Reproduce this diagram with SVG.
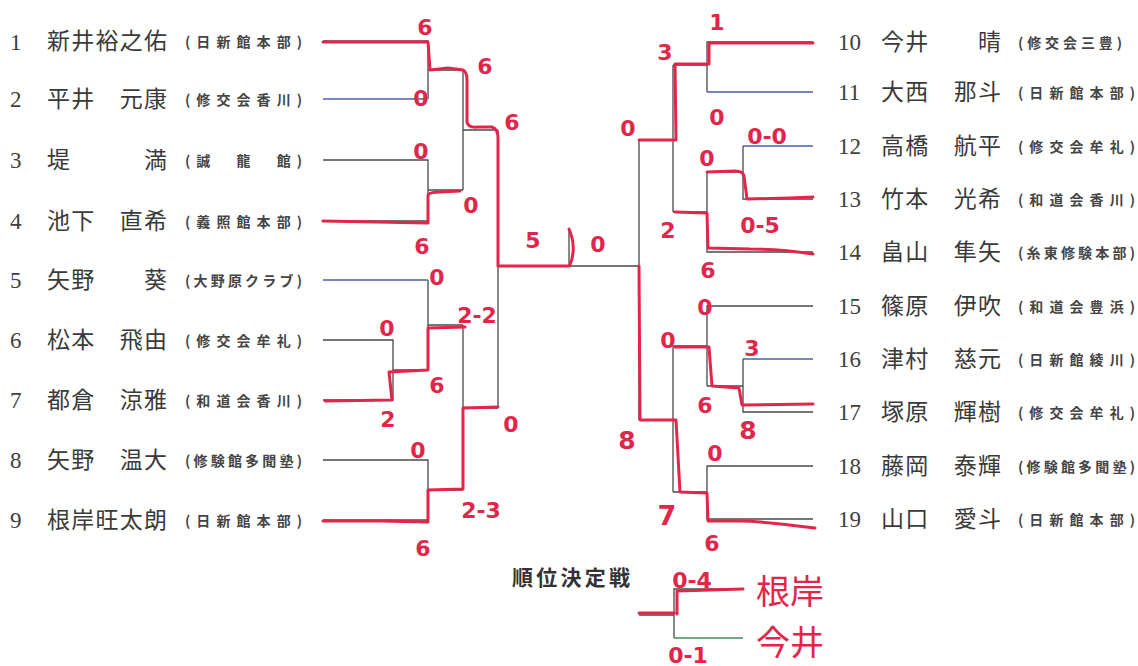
<svg xmlns="http://www.w3.org/2000/svg" width="1138" height="666" viewBox="0 0 1138 666">
<style>
.num{font-family:"Liberation Serif",serif;font-size:23px;fill:#404040}
.nm{font-family:"Noto Sans CJK JP",sans-serif;font-size:23px;fill:#3a3a3a}
.af{font-family:"Noto Sans CJK JP",sans-serif;font-size:14px;font-weight:bold;fill:#454545}
.ln{fill:none;stroke:#4a4a4a;stroke-width:1.3}
.bl{fill:none;stroke:#4862a8;stroke-width:1.3}
.gr{fill:none;stroke:#3f8a5f;stroke-width:1.3}
.rd{fill:none;stroke:#e2264b;stroke-width:3;stroke-linecap:round;stroke-linejoin:round}
.sc{font-family:"DejaVu Sans",sans-serif;font-weight:bold;font-size:22px;fill:#e2264b;text-anchor:middle}
.big{font-family:"Noto Sans CJK JP",sans-serif;font-size:34px;fill:#e2264b}
.ttl{font-family:"Noto Sans CJK JP",sans-serif;font-size:21px;font-weight:bold;fill:#333}
</style>
<rect width="1138" height="666" fill="#ffffff"/>

<g id="p1"><text class="num" x="10" y="50">1</text><text class="nm" x="47" y="49" textLength="120">新井裕之佑</text><text class="af" x="185" y="47" textLength="117">(日新館本部)</text></g>
<g id="p2"><text class="num" x="10" y="107">2</text><text class="nm" x="47" y="107" textLength="120">平井　元康</text><text class="af" x="185" y="105" textLength="117">(修交会香川)</text></g>
<g id="p3"><text class="num" x="10" y="168">3</text><text class="nm" x="47" y="168" textLength="120">堤　　　満</text><text class="af" x="185" y="166" textLength="117">(誠　龍　館)</text></g>
<g id="p4"><text class="num" x="10" y="229">4</text><text class="nm" x="47" y="229" textLength="120">池下　直希</text><text class="af" x="185" y="227" textLength="117">(義照館本部)</text></g>
<g id="p5"><text class="num" x="10" y="288">5</text><text class="nm" x="47" y="288" textLength="120">矢野　　葵</text><text class="af" x="185" y="286" textLength="117">(大野原クラブ)</text></g>
<g id="p6"><text class="num" x="10" y="348">6</text><text class="nm" x="47" y="348" textLength="120">松本　飛由</text><text class="af" x="185" y="346" textLength="117">(修交会牟礼)</text></g>
<g id="p7"><text class="num" x="10" y="408">7</text><text class="nm" x="47" y="408" textLength="120">都倉　涼雅</text><text class="af" x="185" y="406" textLength="117">(和道会香川)</text></g>
<g id="p8"><text class="num" x="10" y="468">8</text><text class="nm" x="47" y="468" textLength="120">矢野　温大</text><text class="af" x="185" y="466" textLength="117">(修験館多聞塾)</text></g>
<g id="p9"><text class="num" x="10" y="528">9</text><text class="nm" x="47" y="528" textLength="120">根岸旺太朗</text><text class="af" x="185" y="526" textLength="117">(日新館本部)</text></g>

<g id="p10"><text class="num" x="838" y="50">10</text><text class="nm" x="881" y="50" textLength="120">今井　　晴</text><text class="af" x="1018" y="48" textLength="104">(修交会三豊)</text></g>
<g id="p11"><text class="num" x="838" y="100">11</text><text class="nm" x="881" y="100" textLength="120">大西　那斗</text><text class="af" x="1018" y="98" textLength="117">(日新館本部)</text></g>
<g id="p12"><text class="num" x="838" y="154">12</text><text class="nm" x="881" y="154" textLength="120">高橋　航平</text><text class="af" x="1018" y="152" textLength="117">(修交会牟礼)</text></g>
<g id="p13"><text class="num" x="838" y="207">13</text><text class="nm" x="881" y="207" textLength="120">竹本　光希</text><text class="af" x="1018" y="205" textLength="117">(和道会香川)</text></g>
<g id="p14"><text class="num" x="838" y="260">14</text><text class="nm" x="881" y="260" textLength="120">畠山　隼矢</text><text class="af" x="1018" y="258" textLength="117">(糸東修験本部)</text></g>
<g id="p15"><text class="num" x="838" y="314">15</text><text class="nm" x="881" y="314" textLength="120">篠原　伊吹</text><text class="af" x="1018" y="312" textLength="117">(和道会豊浜)</text></g>
<g id="p16"><text class="num" x="838" y="367">16</text><text class="nm" x="881" y="367" textLength="120">津村　慈元</text><text class="af" x="1018" y="365" textLength="117">(日新館綾川)</text></g>
<g id="p17"><text class="num" x="838" y="420">17</text><text class="nm" x="881" y="420" textLength="120">塚原　輝樹</text><text class="af" x="1018" y="418" textLength="117">(修交会牟礼)</text></g>
<g id="p18"><text class="num" x="838" y="474">18</text><text class="nm" x="881" y="474" textLength="120">藤岡　泰輝</text><text class="af" x="1018" y="472" textLength="117">(修験館多聞塾)</text></g>
<g id="p19"><text class="num" x="838" y="527">19</text><text class="nm" x="881" y="527" textLength="120">山口　愛斗</text><text class="af" x="1018" y="525" textLength="117">(日新館本部)</text></g>

<g id="title"><text class="ttl" x="512" y="585" textLength="118">順位決定戦</text></g>

<g id="connectors">
<path class="ln" d="M323,41 H428 V99"/>
<path class="bl" d="M428,99 H323"/>
<path class="ln" d="M428,70 H463 M323,160 H428 V221 H323 M428,190 H463 M463,70 V190 M463,130 H498"/>
<path class="bl" d="M323,280 H428"/>
<path class="ln" d="M428,280 V370 M323,340 H393 V400 H323 M393,370 H428 M428,325 H463"/>
<path class="ln" d="M323,460 H428 V520 H323 M428,490 H463 M463,325 V490 M463,408 H498 M498,130 V408 M498,266 H639"/>
<path class="ln" d="M813,42 H707 V92"/>
<path class="bl" d="M707,92 H813 M813,146 H743"/>
<path class="ln" d="M743,146 V199 H813 M707,65 H673 M743,172 H707 M707,172 V252 H813 M707,212 H673 M673,65 V212 M673,140 H639"/>
<path class="ln" d="M813,306 H707 V386 M743,386 H707 M707,346 H673"/>
<path class="bl" d="M813,359 H743"/>
<path class="ln" d="M743,359 V412 H813 M813,466 H707 V519 H813 M707,492 H673 M673,346 V492 M673,420 H639 M639,140 V420"/>
<path class="ln" d="M639,615 H674 M743,589 H674 V638"/>
<path class="gr" d="M674,638 H743"/>
<path class="ln" d="M569,228 V266"/>
</g>

<g id="annotations">
<path class="rd" d="M323,42 L428,42 L430,70 L448,68 L463,70 Q467,72 467,80 L467,122 Q468,128 478,127 L492,127 Q498,129 498,138 L498,266 L569,266"/>
<path class="rd" d="M323,221 L428,223 L428,195 Q430,192 440,192 L460,191"/>
<path class="rd" d="M325,401 L392,400 L389,372 L428,370 L428,328 L465,327"/>
<path class="rd" d="M323,521 L380,521 L428,522 L428,490 L463,489 L463,408 L498,407"/>
<path class="rd" d="M569,229 Q577,247 570,265"/>
<path class="rd" d="M813,43 L709,43 L709,64 L675,64 L676,140 L639,140"/>
<path class="rd" d="M813,197 L790,198 L747,199 L744,176 Q743,171 735,171 L707,172"/>
<path class="rd" d="M813,254 Q780,249 750,249 L708,248 L707,213 L675,212"/>
<path class="rd" d="M813,404 L742,405 L739,388 L712,386 L709,347 L675,347"/>
<path class="rd" d="M815,528 Q760,521 740,521 L708,521 L707,493 L680,492 L676,420 L640,420 L639,266"/>
<path class="rd" d="M639,613 L674,613 M677,614 L677,591 L743,589"/>
<text class="sc" x="425" y="35">6</text>
<text class="sc" x="485" y="74">6</text>
<text class="sc" x="512" y="130">6</text>
<text class="sc" x="421" y="106">0</text>
<text class="sc" x="421" y="159">0</text>
<text class="sc" x="471" y="213">0</text>
<text class="sc" x="422" y="254">6</text>
<text class="sc" x="437" y="285">0</text>
<text class="sc" x="387" y="336">0</text>
<text class="sc" x="477" y="323">2-2</text>
<text class="sc" x="437" y="393">6</text>
<text class="sc" x="388" y="427">2</text>
<text class="sc" x="511" y="432">0</text>
<text class="sc" x="418" y="458">0</text>
<text class="sc" x="481" y="518">2-3</text>
<text class="sc" x="423" y="556">6</text>
<text class="sc" x="533" y="248">5</text>
<text class="sc" x="598" y="252">0</text>
<text class="sc" x="717" y="30">1</text>
<text class="sc" x="665" y="60">3</text>
<text class="sc" x="628" y="136">0</text>
<text class="sc" x="717" y="125">0</text>
<text class="sc" x="767" y="144">0-0</text>
<text class="sc" x="707" y="166">0</text>
<text class="sc" x="760" y="233">0-5</text>
<text class="sc" x="668" y="238">2</text>
<text class="sc" x="708" y="278">6</text>
<text class="sc" x="705" y="315">0</text>
<text class="sc" x="668" y="348">0</text>
<text class="sc" x="752" y="356">3</text>
<text class="sc" x="705" y="413">6</text>
<text class="sc" x="748" y="439" style="font-size:25px">8</text>
<text class="sc" x="627" y="449" style="font-size:25px">8</text>
<text class="sc" x="715" y="461">0</text>
<text class="sc" x="667" y="525" style="font-size:27px">7</text>
<text class="sc" x="712" y="551">6</text>
<text class="sc" x="692" y="588">0-4</text>
<text class="sc" x="688" y="663">0-1</text>
<text class="big" x="756" y="604">根岸</text>
<text class="big" x="756" y="655">今井</text>
</g>
</svg>
